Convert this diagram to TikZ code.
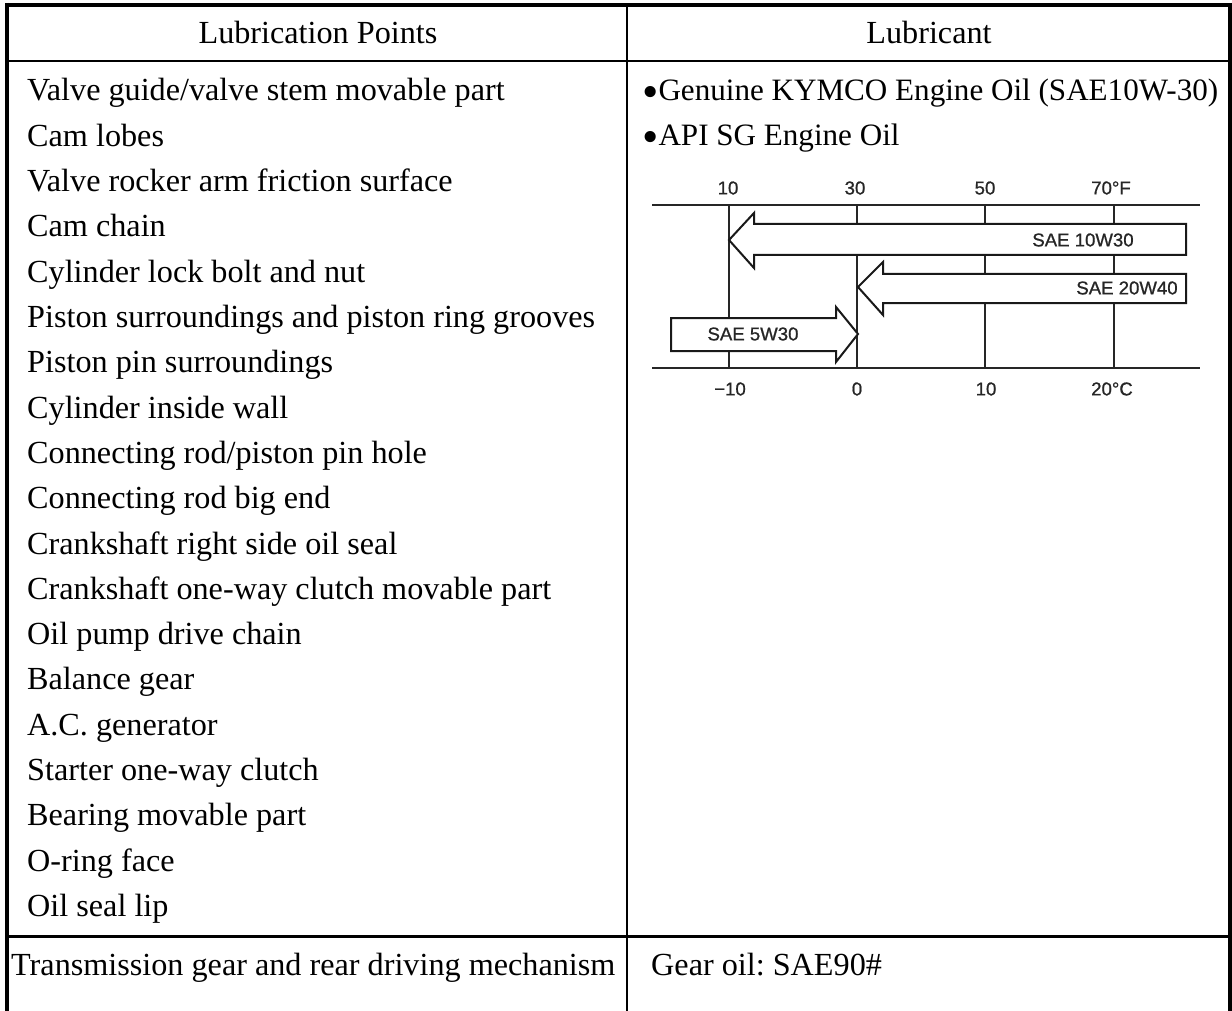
\documentclass[tikz,border=0pt]{standalone}
\usepackage{fontspec}
\setmainfont{Liberation Serif}
\newfontfamily\chartfont{Liberation Sans}[FakeBold=0.9]
\newcommand{\rowfont}{\fontsize{32.2}{36}\selectfont\frenchspacing}
\newcommand{\oilfont}{\fontsize{31.1}{36}\selectfont\frenchspacing}
\newcommand{\chartlblfont}{\chartfont\fontsize{18.6}{20}\selectfont}
\newcommand{\bigbullet}{\raisebox{-7pt}{\scalebox{1.5}{•}}}
\begin{document}
\begin{tikzpicture}[x=1pt,y=-1pt,
  thickrule/.style={line width=4.2pt,black},
  thinrule/.style={line width=2.5pt,black},
  itemtext/.style={anchor=base west,inner sep=0pt,font=\rowfont},
  oiltext/.style={anchor=base west,inner sep=0pt,font=\oilfont},
  headtext/.style={anchor=base,inner sep=0pt,font=\rowfont},
  chartline/.style={line width=1.8pt,black!85},
  oilarrow/.style={line width=2pt,draw=black!90,fill=white,line join=miter},
  chartlbl/.style={inner sep=0pt,font=\chartlblfont,text=black!85}]
\useasboundingbox (0,0) rectangle (1232,1011);
% table rules
\draw[thickrule] (5,5) -- (1232,5);
\draw[thickrule] (7,3) -- (7,1011);
\draw[thickrule] (1230,3) -- (1230,1011);
\draw[thinrule] (7,61) -- (1230,61);
\draw[thinrule] (627,5) -- (627,1011);
\draw[thinrule] (7,936.5) -- (1230,936.5);
% headers
\node[headtext] (h1) at (318,44) {Lubrication Points};
\node[headtext] (h2) at (929,44) {Lubricant};
% items
\foreach \t [count=\i from 0] in {Valve guide/valve stem movable part,Cam lobes,Valve rocker arm friction surface,Cam chain,Cylinder lock bolt and nut,Piston surroundings and piston ring grooves,Piston pin surroundings,Cylinder inside wall,Connecting rod/piston pin hole,Connecting rod big end,Crankshaft right side oil seal,Crankshaft one-way clutch movable part,Oil pump drive chain,Balance gear,A.C. generator,Starter one-way clutch,Bearing movable part,O-ring face,Oil seal lip}
  \node[itemtext] (item\i) at (27,100.7+45.33*\i) {\t};
\node[oiltext] (oil1) at (642,100.7) {\bigbullet Genuine KYMCO Engine Oil (SAE10W-30)};
\node[oiltext] (oil2) at (642,146.0) {\bigbullet API SG Engine Oil};
\node[itemtext] (trans) at (11,975.7) {Transmission gear and rear driving mechanism};
\node[itemtext] (gear) at (651,975.7) {Gear oil: SAE90\#};
% chart
\draw[chartline] (652,205) -- (1200,205);
\draw[chartline] (652,368) -- (1200,368);
\foreach \x in {729,857,985,1114}
  \draw[chartline] (\x,205) -- (\x,368);
\node[chartlbl] (f10) at (728,188) {10};
\node[chartlbl] (f30) at (855,188) {30};
\node[chartlbl] (f50) at (985,188) {50};
\node[chartlbl] (f70) at (1111,188) {70°F};
\node[chartlbl] (c10m) at (730,389) {−10};
\node[chartlbl] (c0) at (857,389) {0};
\node[chartlbl] (c10) at (986,389) {10};
\node[chartlbl] (c20) at (1112,389) {20°C};
\draw[oilarrow] (729,240) -- (754,213) -- (754,224) -- (1186,224) -- (1186,255) -- (754,255) -- (754,268) -- cycle;
\draw[oilarrow] (858,287) -- (883,262) -- (883,274) -- (1186,274) -- (1186,303) -- (883,303) -- (883,315) -- cycle;
\draw[oilarrow] (671,318) -- (836,318) -- (836,307) -- (858,334) -- (836,362) -- (836,351) -- (671,351) -- cycle;
\node[chartlbl] (l1) at (1083,240) {SAE 10W30};
\node[chartlbl] (l2) at (1127,288) {SAE 20W40};
\node[chartlbl] (l3) at (753,334) {SAE 5W30};
\end{tikzpicture}
\end{document}
